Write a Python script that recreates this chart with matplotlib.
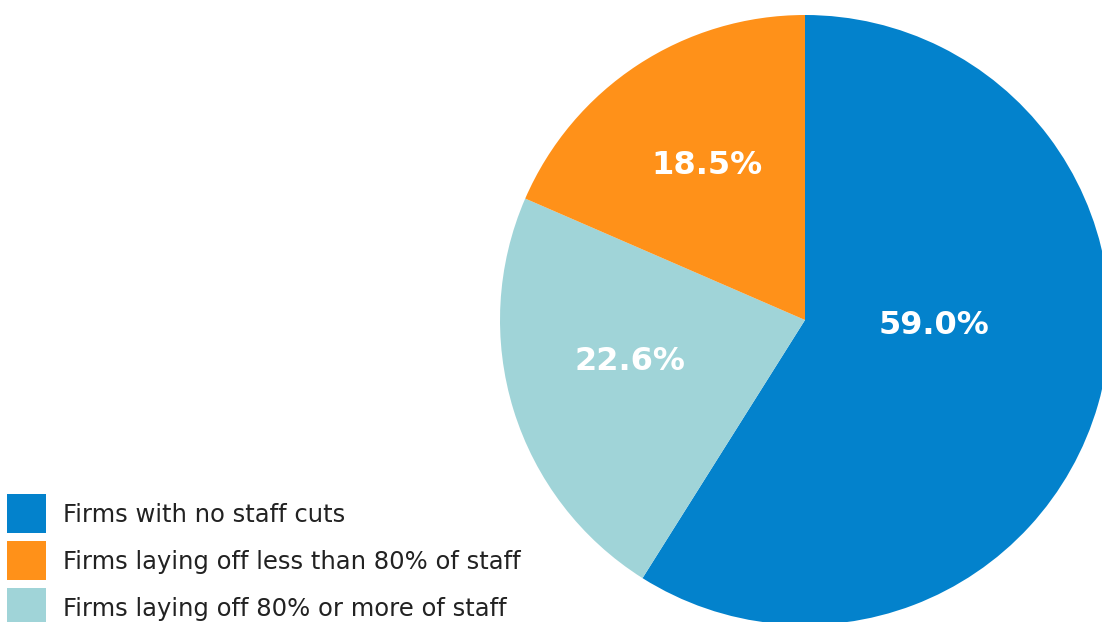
import matplotlib.pyplot as plt
from matplotlib.patches import Rectangle

# shares of firms by staff-cut category
categories = ["Firms with no staff cuts",
              "Firms laying off less than 80% of staff",
              "Firms laying off 80% or more of staff"]
shares = [59.0, 18.5, 22.6]
colors = ["#0382CC", "#FF9119", "#A0D4D8"]

# wedge drawing order (clockwise from top): no cuts, >=80%, <80%
pie_order = [0, 2, 1]
# label anchor points (pixels, y measured from bottom)
label_pos = {0: (934, 296), 1: (707, 457), 2: (630, 260)}

W, H = 1102, 622
fig = plt.figure(figsize=(W / 100, H / 100), dpi=100)
ax = fig.add_axes([0, 0, 1, 1])

ax.pie([shares[i] for i in pie_order],
       colors=[colors[i] for i in pie_order],
       startangle=90, counterclock=False,
       center=(805, 302), radius=305, frame=True,
       wedgeprops=dict(linewidth=0))
ax.set_xlim(0, W)
ax.set_ylim(0, H)
ax.set_aspect("equal")
ax.axis("off")

for i, (x, y) in label_pos.items():
    ax.text(x, y, f"{shares[i]:.1f}%", color="white", fontsize=23,
            fontweight="bold", ha="center", va="center",
            family="DejaVu Sans")

# legend swatches and labels
for k, (name, c) in enumerate(zip(categories, colors)):
    top = 494 + 47 * k
    ax.add_patch(Rectangle((7, H - top - 39), 39, 39, color=c, lw=0))
    ax.text(63, H - top - 21, name, color="#222222", fontsize=17.5,
            ha="left", va="center", family="DejaVu Sans")

fig.savefig("out.png", dpi=100)
